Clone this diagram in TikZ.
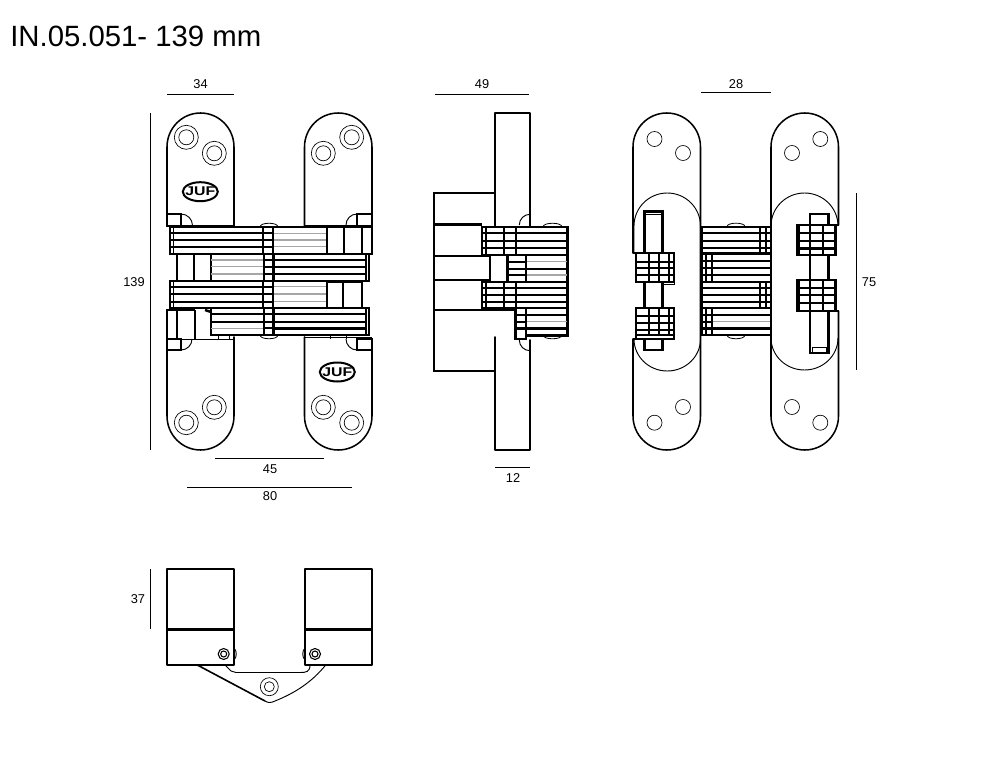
\documentclass[tikz,border=0pt]{standalone}
\usepackage{fontspec}
\setmainfont{Liberation Sans}
% thin horizontal lines of a bar: x1,x2,list of y
\newcommand{\hls}[4][rowline]{\foreach \yy in {#4} {\draw[#1] (#2,\yy) -- (#3,\yy);}}
\newcommand{\vls}[4][rowline]{\foreach \xx in {#4} {\draw[#1] (\xx,#2) -- (\xx,#3);}}
\newcommand{\holes}[4]{%
  \draw[ringline] (#1,#2) circle (#3) (#1,#2) circle (#4);}
\begin{document}
\begin{tikzpicture}[x=0.75pt,y=-0.75pt,
  plate/.style={line width=1.15pt,line cap=round,line join=round},
  heavy/.style={line width=1.8pt,line join=miter},
  rowline/.style={line width=1.25pt},
  fineline/.style={line width=0.7pt},
  grayline/.style={line width=1pt,black!35},
  ringline/.style={line width=0.5pt},
  dimline/.style={line width=0.55pt},
  dimtext/.style={font=\fontsize{9.6pt}{11pt}\selectfont,inner sep=0pt},
  pill/.style={line width=0.6pt},
  logotext/.style={font=\bfseries\fontsize{9.5pt}{9.5pt}\selectfont,inner sep=0pt}
]
\useasboundingbox (0,0) rectangle (1000,774);
\node[anchor=base west,inner sep=0pt,font=\fontsize{22pt}{24pt}\selectfont] (title) at (10,47) {IN.05.051- 139 mm};

% ---------- dimensions
\coordinate (d34a) at (167,94); \coordinate (d34b) at (234,94);
\draw[dimline] (d34a) -- (d34b);
\node[dimtext] (t34) at (200.5,84) {34};
\coordinate (d49a) at (435,94); \coordinate (d49b) at (529,94);
\draw[dimline] (d49a) -- (d49b);
\node[dimtext] (t49) at (482,84) {49};
\coordinate (d28a) at (701,92.5); \coordinate (d28b) at (771,92.5);
\draw[dimline] (d28a) -- (d28b);
\node[dimtext] (t28) at (736,84) {28};
\coordinate (d139a) at (150,113); \coordinate (d139b) at (150,450);
\draw[dimline] (d139a) -- (d139b);
\node[dimtext] (t139) at (134,282) {139};
\coordinate (d45a) at (215,458); \coordinate (d45b) at (324,458);
\draw[dimline] (d45a) -- (d45b);
\node[dimtext] (t45) at (270,469) {45};
\coordinate (d80a) at (187,487); \coordinate (d80b) at (352,487);
\draw[dimline] (d80a) -- (d80b);
\node[dimtext] (t80) at (270,496) {80};
\coordinate (d12a) at (495,467); \coordinate (d12b) at (530,467);
\draw[dimline] (d12a) -- (d12b);
\node[dimtext] (t12) at (513,478) {12};
\coordinate (d75a) at (856,193); \coordinate (d75b) at (856,370);
\draw[dimline] (d75a) -- (d75b);
\node[dimtext] (t75) at (869,282) {75};
\coordinate (d37a) at (150,569); \coordinate (d37b) at (150,629);
\draw[dimline] (d37a) -- (d37b);
\node[dimtext] (t37) at (138,599) {37};

% ---------- FRONT VIEW
% plates
\draw[plate] (167,226) -- (167,147) arc[start angle=180,end angle=360,x radius=33.5,y radius=34] -- (234,226);
\draw[heavy] (167,226) -- (234,226);
\draw[plate] (304.5,226) -- (304.5,147) arc[start angle=180,end angle=360,x radius=33.75,y radius=34] -- (372,214);
\draw[heavy] (304.5,226) -- (372,226);
\draw[plate] (167,339) -- (167,416) arc[start angle=180,end angle=0,x radius=33.5,y radius=34] -- (234,337);
\draw[plate] (304.5,337) -- (304.5,416) arc[start angle=180,end angle=0,x radius=33.75,y radius=34] -- (372,339);
\holes{186.3}{137.3}{12}{7.5} \holes{214.3}{153.3}{12}{7.5}
\holes{323.3}{153.3}{12}{7.5} \holes{351.7}{137.3}{12}{7.5}
\holes{214.3}{407.3}{12}{7.5} \holes{186.3}{422.7}{12}{7.5}
\holes{323.3}{407.3}{12}{7.5} \holes{351.7}{422.7}{12}{7.5}
% logos
\draw[line width=1.5pt] (200.3,191.7) ellipse (17.5 and 9.5);
\node[logotext] (logoa) at (200.3,191.7) {\scalebox{1.25}[1]{JUF}};
\draw[line width=1.5pt] (337.3,372) ellipse (17.5 and 9.5);
\node[logotext] (logob) at (337.3,372) {\scalebox{1.25}[1]{JUF}};
% corner squares and arcs
\draw[heavy] (167,214) rectangle (181,226);
\draw[fineline] (181,214) arc[start angle=-90,end angle=0,radius=11.5];
\draw[heavy] (357,214) rectangle (372,226);
\draw[fineline] (357,214) arc[start angle=-90,end angle=-180,radius=11];
\draw[heavy] (167,339) rectangle (181,350);
\draw[fineline] (181,350) arc[start angle=90,end angle=0,radius=11];
\draw[heavy] (357,339) rectangle (372,350);
\draw[fineline] (357,350) arc[start angle=90,end angle=180,radius=11];
% bolt pills
\draw[pill] (260,227) .. controls (260,222) and (278,222) .. (278,227);
\draw[pill] (260,335) .. controls (260,340) and (278,340) .. (278,335);
% row 1
\draw[rowline] (170,227) rectangle (327,254);
\hls{170}{262}{233.3,240} \hls[heavy]{170}{262}{246.7} \hls[grayline]{273}{326}{233.3,240,246.7}
\vls[fineline]{227}{254}{173}
\draw[heavy] (263,227) rectangle (273,254);
\hls{263}{273}{233.3,240,246.7}
\draw[heavy] (327,227) -- (372,227) -- (372,254) -- (327,254);
\vls{227}{254}{344,361.7}
% row 2 left
\vls{254}{281}{177}
\draw[heavy] (194,254) rectangle (210.7,281);
% row 2
\draw[heavy] (211,254) rectangle (369,281);
\hls{273}{366}{260,266.7} \hls[heavy]{273}{366}{274}
\hls[grayline]{211}{263}{260,266.7,274}
\draw[heavy] (264,254) -- (264,281) (273.3,254) -- (273.3,281);
\vls{254}{281}{366}
\hls{264}{273}{260,266.7,274}
% row 3
\draw[rowline] (170,281) rectangle (327,308);
\hls{170}{262}{286.7,294} \hls[heavy]{170}{262}{301.7} \hls[grayline]{273}{326}{286.7,294,301.7}
\vls[fineline]{281}{308}{173}
\draw[heavy] (263,281) rectangle (273,308);
\hls{263}{273}{286.7,294,301.7}
\draw[rowline] (327,282) -- (361.7,282) -- (361.7,308);
\vls{282}{308}{343}
% row 4 left
\draw[heavy] (167,339) -- (167,310) -- (195,310);
\vls{310}{339}{177,195}
\draw[heavy] (205,310) -- (211,312);
% row 4
\draw[heavy] (211,308) rectangle (369,335);
\hls{273}{366}{314,321.7} \hls[heavy]{273}{366}{328.3}
\hls{211}{263}{314,321.7}\hls[grayline]{211}{263}{328.3}
\draw[heavy] (264,308) -- (264,335) (273.3,308) -- (273.3,335);
\vls{308}{335}{366}
\hls{264}{273}{314,321.7,328.3}
% stubs under row 4 / above
\draw[fineline] (167,339) -- (234,339);
\draw[fineline] (304.5,337) -- (372,337);
\vls[fineline]{335}{339}{218,229,330,346}

% ---------- SIDE VIEW
\draw[plate] (495,226) -- (495,113) -- (530,113) -- (530,226);
\draw[plate] (495,337) -- (495,450) -- (530,450) -- (530,340);
\draw[heavy] (495,193) -- (434,193) -- (434,371) -- (495,371);
\draw[heavy] (434,224.5) -- (482,224.5);
\draw[heavy] (434,255.7) -- (490,255.7);
\draw[heavy] (434,280) -- (490,280);
\draw[heavy] (434,310) -- (515,310);
\draw[fineline] (519.3,225) arc[start angle=180,end angle=270,radius=10.7];
\draw[fineline] (519.3,340) arc[start angle=180,end angle=90,radius=10.7];
\draw[pill] (543,227) .. controls (543,222) and (562,222) .. (562,227);
\draw[pill] (543,335) .. controls (543,340) and (562,340) .. (562,335);
% rows
\draw[heavy] (482,226.7) rectangle (567.5,255);
\hls{482}{567}{233.3,240.7} \hls[heavy]{482}{567}{248}
\vls{226.7}{255}{485.7,503.7,515.7}
\draw[heavy] (490,255) rectangle (507.5,282);
\draw[heavy] (507.5,255) -- (567.5,255) -- (567.5,282) -- (507.5,282);
\hls{507}{526}{261.7,269.3} \hls[heavy]{507}{526}{275}
\hls[grayline]{526}{567}{261.7} \hls{526}{567}{269.3} \hls[grayline]{526}{567}{275}
\vls{255}{282}{525.7}
\draw[heavy] (482,282) rectangle (567.5,308);
\hls{482}{567}{288.3,295} \hls[heavy]{482}{567}{301.7}
\vls{282}{308}{485.7,503.7,515.7}
\draw[heavy] (567.5,308) -- (567.5,335.5) -- (526,335.5) -- (526,339) -- (515.5,339) -- (515.5,308);
\hls{515}{567}{315} \hls{515}{526}{321.7} \hls[grayline]{526}{567}{321.7}
\hls[heavy]{515}{567}{328.3}
\vls{308}{336}{525.7}

% ---------- BACK VIEW, left plate
\draw[plate] (633,253) -- (633,147) arc[start angle=180,end angle=360,x radius=33.75,y radius=34] -- (700.5,416) arc[start angle=0,end angle=180,x radius=33.75,y radius=34] -- (633,339);
\draw[fineline] (634,253) -- (634,226) arc[start angle=180,end angle=360,x radius=33.25,y radius=33] ;
\draw[fineline] (634,339) arc[start angle=180,end angle=0,x radius=33.25,y radius=32];
\holes{654.5}{139}{7.5}{7.5} \holes{683}{153}{7.5}{7.5}
\holes{683}{407}{7.5}{7.5} \holes{654.5}{422.7}{7.5}{7.5}
\draw[heavy] (633,253) -- (674,253);
\draw[heavy] (633,339) -- (674,339);
% tabs
\draw[heavy] (644.5,253) -- (644.5,211.5) -- (662.3,211.5) -- (662.3,253);
\draw[fineline] (644.5,214) -- (662.3,214);
\draw[heavy] (644.5,282) -- (644.5,308) (662.3,282) -- (662.3,308);
\draw[heavy] (644.5,339) -- (644.5,350) -- (662.3,350) -- (662.3,339);
% blocks
\draw[heavy] (636,253) rectangle (674,281.7);
\hls{636}{674}{261.7,268.3} \hls[heavy]{636}{674}{275}
\vls{253}{281.7}{649,659,669}
\draw[fineline] (662,284) -- (674,284) -- (674,281);
\draw[heavy] (636,308) rectangle (674,339);
\hls{636}{674}{316,323.3} \hls[heavy]{636}{674}{330}
\hls{636}{674}{335}
\vls{308}{335}{649,659,669}
% middle rows
\draw[heavy] (701.7,226.7) rectangle (770.7,253.3);
\hls{702}{770}{233.3,240.7} \hls[heavy]{702}{770}{248}
\vls[rowline]{226.7}{253.3}{759.7,765.7}
\draw[heavy] (701.7,253.3) rectangle (770.7,281.7);
\hls{702}{770}{261,268.3} \hls[heavy]{702}{770}{275}
\vls[rowline]{253.3}{281.7}{706,712.3}
\draw[heavy] (701.7,281.7) rectangle (770.7,308);
\hls{702}{770}{288.3,295} \hls[heavy]{702}{770}{301.7}
\vls[rowline]{281.7}{308}{759.7,765.7}
\draw[heavy] (701.7,308) rectangle (770.7,335);
\hls{702}{770}{315} \hls[grayline]{712}{770}{321.7} \hls{702}{712}{321.7} \hls[heavy]{702}{770}{328.3}
\vls[rowline]{308}{335}{706,712.3}
\draw[pill] (727,226.7) .. controls (727,222) and (745,222) .. (745,226.7);
\draw[pill] (727,335) .. controls (727,340) and (745,340) .. (745,335);

% ---------- BACK VIEW, right plate
\draw[plate] (771,416) -- (771,147) arc[start angle=180,end angle=360,x radius=33.75,y radius=34] -- (838.5,225);
\draw[plate] (838.5,311) -- (838.5,416) arc[start angle=0,end angle=180,x radius=33.75,y radius=34];
\draw[fineline] (771,226) arc[start angle=180,end angle=360,x radius=33.5,y radius=33];
\draw[fineline] (771,338) arc[start angle=180,end angle=0,x radius=33.5,y radius=32];
\holes{792}{153}{7.5}{7.5} \holes{820.3}{139}{7.5}{7.5}
\holes{792}{407}{7.5}{7.5} \holes{820.3}{422.7}{7.5}{7.5}
\draw[heavy] (797.3,225) -- (838.5,225);
\draw[heavy] (828.3,311) -- (838.5,311);
\draw[heavy] (810,225) -- (810,214) -- (828.3,214) -- (828.3,225);
\draw[heavy] (810,255) -- (810,280) (828.3,255) -- (828.3,280);
\draw[heavy] (810,311) -- (810,352.7) -- (828.3,352.7) -- (828.3,311);
\draw[fineline] (812,352) -- (812,347) -- (826,347) -- (826,352);
\draw[heavy] (797.3,225) rectangle (836,255);
\hls{797}{836}{233.3,241} \hls[heavy]{797}{836}{248.3}
\vls{225}{255}{810,823}
\vls[fineline]{225}{255}{799,834}
\draw[heavy] (797.3,280) rectangle (836,310.7);
\hls{797}{836}{288.3,295} \hls[heavy]{797}{836}{302.7}
\vls{280}{310.7}{810,823}
\vls[fineline]{280}{310.7}{799,834}

% ---------- BOTTOM VIEW
\draw[plate] (167,665) -- (167,569) -- (234,569) -- (234,665);
\draw[plate] (305,665) -- (305,569) -- (372,569) -- (372,665);
\draw[heavy] (167,665) -- (234,665) (305,665) -- (372,665);
\draw[heavy] (167,629.5) -- (234,629.5) (305,629.5) -- (372,629.5);
\draw[line width=0.8pt] (223.7,654) circle (5.5);
\draw[line width=0.8pt] (223.7,654) circle (3);
\draw[line width=0.8pt] (315,654) circle (5.5);
\draw[line width=0.8pt] (315,654) circle (3);
\draw[fineline] (234,648) .. controls (237,651) and (237,657) .. (234,660);
\draw[fineline] (305,648) .. controls (302,651) and (302,657) .. (305,660);
\draw[line width=1.2pt] (197.3,665) -- (265,701);
\draw[fineline] (265,701) .. controls (268,703) and (271,703) .. (275,701) .. controls (295,693) and (312,682) .. (325.7,665);
\draw[fineline] (225,665) -- (231,671) .. controls (233,672.5) and (234,672.5) .. (236,672.5) -- (300,672.5) .. controls (306,672.5) and (310,672) .. (310,665);
\draw[ringline] (269.3,686.7) circle (9) (269.3,686.7) circle (5);
\end{tikzpicture}
\end{document}
